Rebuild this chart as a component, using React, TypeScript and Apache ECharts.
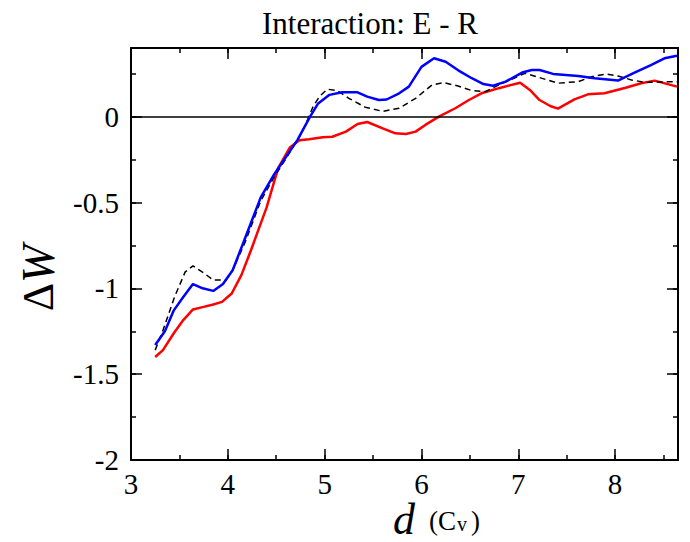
import React, { useEffect, useRef } from "react";
import * as echarts from "echarts";

const titleText = "Interaction: E - R";
const xTickValues = [3, 4, 5, 6, 7, 8];
const yTickValues = [0, -0.5, -1, -1.5, -2];

const blueData: [number, number][] = [
  [3.25, -1.33], [3.35, -1.25], [3.44, -1.13], [3.54, -1.05], [3.64, -0.975],
  [3.74, -1.0], [3.85, -1.015], [3.95, -0.975], [4.05, -0.895], [4.17, -0.72],
  [4.34, -0.47], [4.48, -0.335], [4.6, -0.235], [4.72, -0.135], [4.85, 0.0],
  [4.93, 0.075], [5.05, 0.127], [5.18, 0.142], [5.34, 0.142], [5.44, 0.117],
  [5.56, 0.097], [5.64, 0.1], [5.77, 0.136], [5.87, 0.175], [6.0, 0.29],
  [6.13, 0.34], [6.25, 0.32], [6.38, 0.27], [6.52, 0.224], [6.64, 0.19],
  [6.74, 0.18], [6.87, 0.204], [7.04, 0.257], [7.14, 0.272], [7.22, 0.272],
  [7.36, 0.249], [7.62, 0.237], [7.79, 0.224], [8.03, 0.21], [8.19, 0.253],
  [8.37, 0.3], [8.51, 0.34], [8.64, 0.355],
];

const redData: [number, number][] = [
  [3.25, -1.4], [3.33, -1.36], [3.44, -1.263], [3.54, -1.185], [3.64, -1.123],
  [3.75, -1.108], [3.85, -1.094], [3.94, -1.079], [4.04, -1.03], [4.14, -0.923],
  [4.24, -0.777], [4.4, -0.53], [4.52, -0.3], [4.64, -0.18], [4.74, -0.138],
  [4.84, -0.132], [4.98, -0.12], [5.08, -0.117], [5.22, -0.087], [5.34, -0.043],
  [5.44, -0.031], [5.6, -0.068], [5.73, -0.097], [5.84, -0.101], [5.94, -0.087],
  [6.04, -0.048], [6.18, 0.0], [6.35, 0.049], [6.49, 0.097], [6.62, 0.136],
  [6.8, 0.166], [7.02, 0.198], [7.12, 0.156], [7.22, 0.097], [7.33, 0.062],
  [7.41, 0.047], [7.58, 0.101], [7.72, 0.13], [7.89, 0.136], [8.1, 0.167],
  [8.27, 0.195], [8.41, 0.21], [8.64, 0.175],
];

const blackData: [number, number][] = [
  [3.25, -1.36], [3.33, -1.245], [3.45, -1.05], [3.56, -0.904], [3.64, -0.869],
  [3.75, -0.91], [3.85, -0.952], [3.98, -0.952], [4.05, -0.894], [4.18, -0.73],
  [4.34, -0.49], [4.48, -0.35], [4.6, -0.245], [4.72, -0.135], [4.8, -0.05],
  [4.88, 0.058], [4.95, 0.12], [5.03, 0.16], [5.13, 0.152], [5.25, 0.107],
  [5.42, 0.055], [5.6, 0.031], [5.77, 0.049], [5.94, 0.107], [6.11, 0.185],
  [6.23, 0.198], [6.37, 0.18], [6.52, 0.152], [6.66, 0.146], [6.8, 0.185],
  [6.93, 0.218], [7.07, 0.253], [7.19, 0.233], [7.41, 0.195], [7.62, 0.204],
  [7.76, 0.233], [7.91, 0.249], [8.03, 0.237], [8.17, 0.214], [8.31, 0.2],
  [8.64, 0.204],
];

const FONT = "Liberation Serif";

export default function App() {
  const ref = useRef<HTMLDivElement>(null);
  useEffect(() => {
    if (!ref.current) return;
    const chart = echarts.init(ref.current, undefined, { renderer: "svg" });
    const X_MIN = 3, X_MAX = 8.65, Y_MIN = -2, Y_MAX = 0.4;
    const axisLineStyle = { color: "#000", width: 2 };
    const tickStyle = { color: "#000", width: 1.5 };
    const mkX = (pos: string, interval: number, len: number, labels: boolean, line: boolean) => ({
      type: "value",
      position: pos,
      min: X_MIN,
      max: X_MAX,
      interval,
      axisLine: { show: line, onZero: false, lineStyle: axisLineStyle },
      axisTick: { show: true, inside: true, length: len, lineStyle: tickStyle },
      axisLabel: {
        show: labels,
        showMaxLabel: false,
        fontSize: 29,
        fontFamily: FONT,
        color: "#000",
        margin: 9,
        formatter: (v: number) => (xTickValues.includes(v) ? String(v) : ""),
      },
      splitLine: { show: false },
    });
    const mkY = (pos: string, interval: number, len: number, labels: boolean, line: boolean) => ({
      type: "value",
      position: pos,
      min: Y_MIN,
      max: Y_MAX,
      interval,
      axisLine: { show: line, onZero: false, lineStyle: axisLineStyle },
      axisTick: { show: true, inside: true, length: len, lineStyle: tickStyle },
      axisLabel: {
        show: labels,
        showMaxLabel: false,
        fontSize: 29,
        fontFamily: FONT,
        color: "#000",
        margin: 12,
        formatter: (v: number) => (yTickValues.includes(v) ? String(v) : ""),
      },
      splitLine: { show: false },
    });
    chart.setOption({
      animation: false,
      backgroundColor: "#fff",
      grid: { left: 131, right: 12, top: 48, bottom: 82, containLabel: false },
      xAxis: [
        mkX("bottom", 1, 11, true, true),
        mkX("bottom", 0.5, 5, false, false),
        mkX("top", 1, 11, false, true),
        mkX("top", 0.5, 5, false, false),
      ],
      yAxis: [
        mkY("left", 0.5, 11, true, true),
        mkY("left", 0.25, 5, false, false),
        mkY("right", 0.5, 11, false, true),
        mkY("right", 0.25, 5, false, false),
      ],
      series: [
        {
          type: "line",
          xAxisIndex: 0,
          yAxisIndex: 0,
          data: redData,
          showSymbol: false,
          symbol: "none",
          lineStyle: { color: "#ff0000", width: 2.5 },
          z: 3,
          markLine: {
            silent: true,
            symbol: "none",
            label: { show: false },
            lineStyle: { color: "#000", width: 1.5, type: "solid" },
            data: [{ yAxis: 0 }],
          },
        },
        {
          type: "line",
          xAxisIndex: 0,
          yAxisIndex: 0,
          data: blackData,
          showSymbol: false,
          symbol: "none",
          lineStyle: { color: "#000", width: 1.5, type: [6, 4] },
          z: 4,
        },
        {
          type: "line",
          xAxisIndex: 0,
          yAxisIndex: 0,
          data: blueData,
          showSymbol: false,
          symbol: "none",
          lineStyle: { color: "#0000ff", width: 2.5 },
          z: 5,
        },
      ],
      graphic: [
        {
          type: "text",
          x: 370,
          y: 23,
          style: {
            text: titleText,
            fontSize: 31,
            fontFamily: FONT,
            fill: "#000",
            align: "center",
            verticalAlign: "middle",
          },
        },
        {
          type: "text",
          x: 38,
          y: 278,
          rotation: Math.PI / 2,
          style: {
            text: "{a|Δ}{b|W}",
            fill: "#000",
            align: "center",
            verticalAlign: "middle",
            rich: {
              a: { fontSize: 44, fontFamily: FONT, fill: "#000" },
              b: { fontSize: 46, fontFamily: FONT, fontStyle: "italic", fill: "#000" },
            },
          },
        },
        {
          type: "text",
          x: 404,
          y: 519,
          style: {
            text: "d",
            fontSize: 44,
            fontFamily: FONT,
            fontStyle: "italic",
            fill: "#000",
            align: "center",
            verticalAlign: "middle",
          },
        },
        {
          type: "text",
          x: 429,
          y: 521,
          style: {
            text: "{a|(C}{b|v}{a|)}",
            fill: "#000",
            align: "left",
            verticalAlign: "middle",
            rich: {
              a: { fontSize: 27, fontFamily: FONT, fill: "#000" },
              b: { fontSize: 20, fontFamily: FONT, fill: "#000", padding: [6, 4, 0, 1] },
            },
          },
        },
      ],
    });
    return () => chart.dispose();
  }, []);
  return (
    <div
      ref={ref}
      style={{ position: "fixed", left: 0, top: 0, width: 690, height: 542 }}
    />
  );
}
